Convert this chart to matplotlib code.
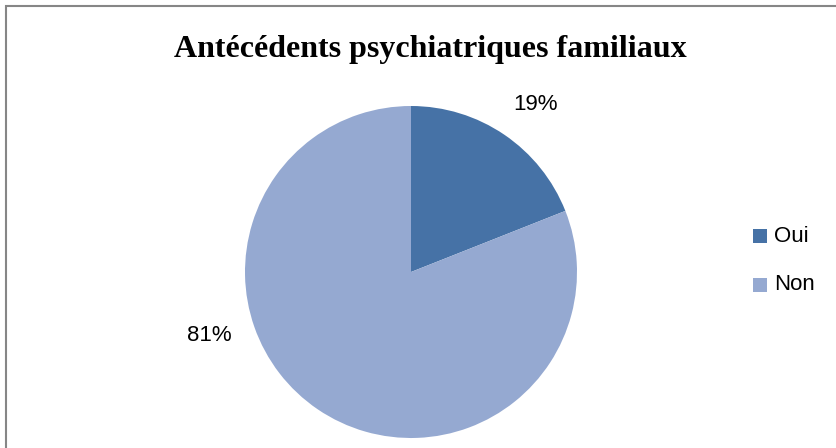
import matplotlib.pyplot as plt
from matplotlib.patches import Rectangle

# données
categories = ['Oui', 'Non']
valeurs = [19, 81]
couleurs = ['#4672A6', '#95A9D1']
titre = 'Antécédents psychiatriques familiaux'

W, H = 836, 448
fig = plt.figure(figsize=(W / 100, H / 100), dpi=100)

# cadre du graphique
fig.patches.append(Rectangle((6 / W, -0.1), 1.2, 1 - 6 / H + 0.1,
                             transform=fig.transFigure, fill=False,
                             edgecolor='#868686', linewidth=1.5))

# axe du camembert : centre (411, 272) px, rayon 166 px
cx, cy, r = 411, 272, 166
ax = fig.add_axes([(cx - r) / W, (H - cy - r) / H, 2 * r / W, 2 * r / H])
wedges, texts, autotexts = ax.pie(valeurs, colors=couleurs, startangle=90,
                                  counterclock=False, radius=1,
                                  autopct='%1.0f%%',
                                  wedgeprops=dict(linewidth=0))
ax.set_xlim(-1, 1)
ax.set_ylim(-1, 1)
ax.set_aspect('equal')
ax.axis('off')

# étiquettes placées comme dans Excel
pos_etiquettes = [((535 - cx) / r, (cy - 105) / r), ((209 - cx) / r, (cy - 335) / r)]
for t, p in zip(autotexts, pos_etiquettes):
    t.set_position(p)
    t.set_fontsize(16)
    t.set_family('Liberation Sans')
    t.set_color('black')

fig.text(430 / W, 1 - 50 / H, titre, ha='center', va='center',
         fontsize=23, fontweight='bold', family='Liberation Serif')

# légende
for i, (cat, col) in enumerate(zip(categories, couleurs)):
    y = 1 - (236.5 + 48 * i) / H
    fig.patches.append(Rectangle((753 / W, y - 7 / H), 14 / W, 14 / H,
                                 transform=fig.transFigure, facecolor=col,
                                 edgecolor='none'))
    fig.text(774 / W, y, cat, ha='left', va='center', fontsize=16,
             family='Liberation Sans')

fig.savefig('out.png', dpi=100)
